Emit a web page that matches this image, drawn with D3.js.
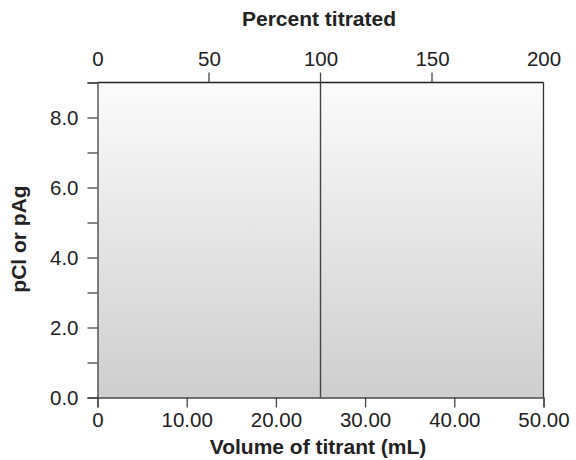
<!DOCTYPE html>
<html>
<head>
<meta charset="utf-8">
<script src="https://cdn.jsdelivr.net/npm/d3@7"></script>
<style>
  body { margin: 0; background: #fff; }
  text { font-family: "Liberation Sans", Arial, sans-serif; fill: #222; }
</style>
</head>
<body>
<div id="chart"></div>
<script>
// Axis data
const volumeTicks = [0, 10, 20, 30, 40, 50];
const volumeLabels = ["0", "10.00", "20.00", "30.00", "40.00", "50.00"];
const percentTicks = [0, 50, 100, 150, 200];
const percentTickMarks = [50, 100, 150];
const pMajor = [0, 2, 4, 6, 8];
const pMinor = [1, 3, 5, 7, 9];
const equivalenceVolume = [25];

const W = 576, H = 460;
const margin = { top: 82.5, right: 32.5, bottom: 62.5, left: 97.5 };
const width = W - margin.left - margin.right;
const height = H - margin.top - margin.bottom;

const svg = d3.select("#chart").append("svg")
    .attr("width", W)
    .attr("height", H);

const defs = svg.append("defs");
const grad = defs.append("linearGradient")
    .attr("id", "bg")
    .attr("x1", 0).attr("y1", 0).attr("x2", 0).attr("y2", 1);
grad.append("stop").attr("offset", "0%").attr("stop-color", "#fbfbfb");
grad.append("stop").attr("offset", "100%").attr("stop-color", "#cecece");

const g = svg.append("g")
    .attr("transform", "translate(" + margin.left + "," + margin.top + ")");

const x = d3.scaleLinear().domain([0, 50]).range([0, width]);
const xTop = d3.scaleLinear().domain([0, 200]).range([0, width]);
const y = d3.scaleLinear().domain([0, 9]).range([height, 0]);

// plot background
g.append("rect")
    .attr("x", 0).attr("y", 0)
    .attr("width", width).attr("height", height)
    .attr("fill", "url(#bg)");

// top and right border
g.append("line")
    .attr("x1", 0).attr("x2", width).attr("y1", 0).attr("y2", 0)
    .attr("stroke", "#222").attr("stroke-width", 1.3);
g.append("line")
    .attr("x1", width).attr("x2", width).attr("y1", 0).attr("y2", height)
    .attr("stroke", "#333").attr("stroke-width", 1.3);

// equivalence point line
g.selectAll(".eq")
    .data(equivalenceVolume)
  .enter().append("line")
    .attr("class", "eq")
    .attr("x1", d => x(d)).attr("x2", d => x(d))
    .attr("y1", 0).attr("y2", height)
    .attr("stroke", "#444").attr("stroke-width", 1.4);

const fontSize = 20.5;

// bottom axis
const xAxis = d3.axisBottom(x)
    .tickValues(volumeTicks)
    .tickSize(10)
    .tickPadding(5)
    .tickFormat((d, i) => volumeLabels[i]);
const gx = g.append("g")
    .attr("transform", "translate(0," + height + ")")
    .call(xAxis);

// top axis (labels at every value, tick marks only inside)
const gt = g.append("g").call(
    d3.axisTop(xTop).tickValues(percentTicks).tickSize(0).tickPadding(17).tickFormat(d3.format("d")));
gt.select(".domain").remove();
g.selectAll(".ptick")
    .data(percentTickMarks)
  .enter().append("line")
    .attr("class", "ptick")
    .attr("x1", d => xTop(d)).attr("x2", d => xTop(d))
    .attr("y1", 0).attr("y2", -10)
    .attr("stroke", "#444").attr("stroke-width", 1.3);

// left axis
const gy = g.append("g").call(
    d3.axisLeft(y).tickValues(pMajor).tickSize(10).tickPadding(9).tickFormat(d3.format(".1f")));
g.append("g").call(
    d3.axisLeft(y).tickValues(pMinor).tickSize(10).tickFormat(""))
    .select(".domain").remove();

g.selectAll(".domain").attr("stroke", "#444").attr("stroke-width", 1.3);
g.selectAll(".tick line").attr("stroke", "#444").attr("stroke-width", 1.3);
g.selectAll(".tick text")
    .attr("font-size", fontSize + "px")
    .attr("font-family", "'Liberation Sans', Arial, sans-serif")
    .attr("fill", "#222");

// axis titles
svg.append("text")
    .attr("x", 319)
    .attr("y", 26)
    .attr("text-anchor", "middle")
    .attr("font-size", "21px")
    .attr("font-weight", "bold")
    .text("Percent titrated");

svg.append("text")
    .attr("x", 318)
    .attr("y", 454)
    .attr("text-anchor", "middle")
    .attr("font-size", "21px")
    .attr("font-weight", "bold")
    .text("Volume of titrant (mL)");

svg.append("text")
    .attr("transform", "translate(26,239) rotate(-90)")
    .attr("text-anchor", "middle")
    .attr("font-size", "21px")
    .attr("font-weight", "bold")
    .text("pCl or pAg");
</script>
</body>
</html>
